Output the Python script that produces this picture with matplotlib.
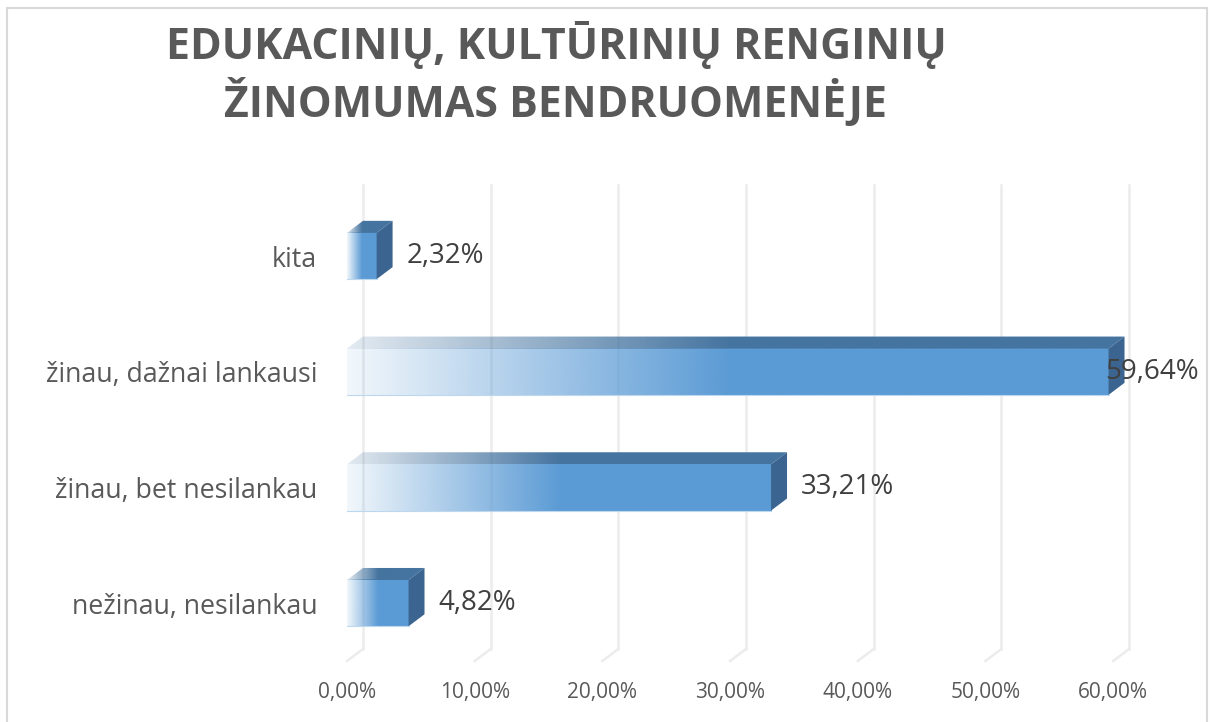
import numpy as np
import matplotlib
matplotlib.use("Agg")
from matplotlib import pyplot as plt
from matplotlib.patches import Polygon, Rectangle

plt.rcParams['font.family'] = ['Open Sans', 'DejaVu Sans']

# duomenys (apačia -> viršus)
categories = ['nežinau, nesilankau', 'žinau, bet nesilankau', 'žinau, dažnai lankausi', 'kita']
values = [4.82, 33.21, 59.64, 2.32]
x_ticks = [0, 10, 20, 30, 40, 50, 60]
title_lines = ['EDUKACINIŲ, KULTŪRINIŲ RENGINIŲ', 'ŽINOMUMAS BENDRUOMENĖJE']

FRONT = np.array([0x5B, 0x9B, 0xD5]) / 255
TOP = np.array([0x45, 0x74, 0xA0]) / 255
SIDE = '#3B6590'
GRID = '#ECECEC'

fig = plt.figure(figsize=(12.15, 7.22), dpi=100)
ax = fig.add_axes([347 / 1215, 61 / 722, 830 / 1215, 481 / 722])
ax.set_xlim(0, 65)
ax.set_ylim(-0.5, 3.657)

DX, DY = 1.25, 0.104   # 3D gylis
H = 0.4                # juostos aukštis
grid_top = 3.614

# galinė siena + grindų įstrižainės
for t in x_ticks:
    ax.plot([t + DX, t + DX], [-0.5 + DY, grid_top], color=GRID, lw=1.8, zorder=1, clip_on=False)
    ax.plot([t + DX, t], [-0.5 + DY, -0.5], color=GRID, lw=1.8, zorder=1, clip_on=False)


def grad(color, n=256, frac=1.0, a0=0.08):
    s = np.linspace(0, 1, n) * frac
    a = a0 + (1 - a0) * np.clip(s / 0.5, 0, 1)
    img = np.zeros((1, n, 4))
    img[0, :, :3] = color
    img[0, :, 3] = a
    return img


y_pos = np.arange(len(categories))
for y, v in zip(y_pos, values):
    y0, y1 = y - H / 2, y + H / 2
    # priekis
    ax.imshow(grad(FRONT), extent=[0, v, y0, y1], aspect='auto',
              interpolation='bilinear', zorder=3)
    # viršus
    top = Polygon([(0, y1), (v, y1), (v + DX, y1 + DY), (DX, y1 + DY)],
                  closed=True, fc='none', ec='none', transform=ax.transData)
    ax.add_patch(top)
    im = ax.imshow(grad(TOP, frac=(v + DX) / v, a0=0.15), extent=[0, v + DX, y1, y1 + DY],
                   aspect='auto', interpolation='bilinear', zorder=3)
    im.set_clip_path(top)
    # šonas
    ax.add_patch(Polygon([(v, y0), (v, y1), (v + DX, y1 + DY), (v + DX, y0 + DY)],
                         closed=True, fc=SIDE, ec='none', zorder=4))
    ax.plot([0, v], [y0, y0], color='#BDD7EE', lw=0.8, zorder=4)

ax.set_xlim(0, 65)
ax.set_ylim(-0.5, 3.657)

# reikšmių etiketės
labels = []
for y, v in zip(y_pos, values):
    txt = f'{v:.2f}%'.replace('.', ',')
    labels.append(ax.text(v + DX + 1.1, y, txt, ha='left', va='center',
                          fontsize=20, color='#404040', zorder=5))

ax.set_yticks(y_pos, categories)
ax.set_xticks(x_ticks, [f'{t:.2f}%'.replace('.', ',') for t in x_ticks])
ax.tick_params(axis='y', length=0, pad=21.5, labelsize=19.3, labelcolor='#595959')
ax.tick_params(axis='x', length=0, pad=15, labelsize=15, labelcolor='#595959')
for s in ax.spines.values():
    s.set_visible(False)
ax.set_facecolor('none')

# pavadinimas
fig.text(556 / 1215, 1 - 59 / 722, title_lines[0], ha='center', va='baseline',
         fontsize=30.8, weight='bold', color='#595959')
fig.text(556 / 1215, 1 - 117 / 722, title_lines[1], ha='center', va='baseline',
         fontsize=30.8, weight='bold', color='#595959')

# diagramos rėmelis
fig.patches.append(Rectangle((7 / 1215, -0.01), 1200 / 1215, 1 - 8 / 722 + 0.01,
                             transform=fig.transFigure, fill=False, ec='#D9D9D9', lw=1.5))

# etiketė neturi išlįsti už rėmelio
fig.canvas.draw()
r = fig.canvas.get_renderer()
lim_px = 1199
for t in labels:
    bb = t.get_window_extent(r)
    if bb.x1 > lim_px:
        t.set_ha('right')
        t.set_x(ax.transData.inverted().transform((lim_px, 0))[0])

fig.savefig('out.png', dpi=100, facecolor='white')
